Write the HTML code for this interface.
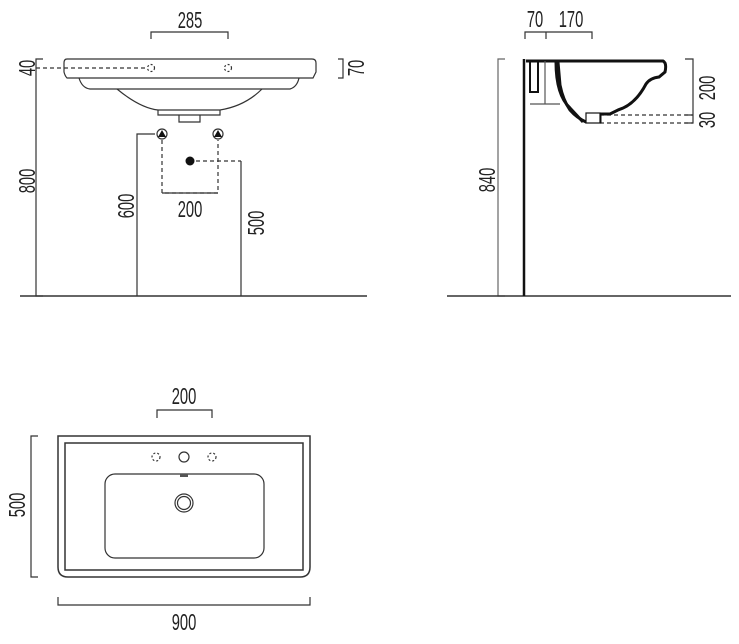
<!DOCTYPE html>
<html><head><meta charset="utf-8"><style>
html,body{margin:0;padding:0;background:#fff}
svg text{font-family:"Liberation Sans",sans-serif;font-size:23px;fill:#222}
</style></head><body>
<svg width="739" height="639" viewBox="0 0 739 639" xmlns="http://www.w3.org/2000/svg">
<g fill="none" stroke="#333" stroke-width="1.2">
<path d="M151 39V32H228V39"/>
<path d="M43 59H36V296H43"/>
<line x1="20" y1="296" x2="367" y2="296" stroke-width="1.5"/>
<path d="M36 68H147" stroke-dasharray="4 3"/>
<circle cx="151" cy="68" r="3.5" stroke-dasharray="2 2"/>
<circle cx="228" cy="68" r="3.5" stroke-dasharray="2 2"/>
<path d="M67 59H312Q316 59 316 63V72Q314 76 313 78H67Q65 76 64 72V63Q64 59 67 59Z"/>
<path d="M79 78Q82 88 90 89H290Q297 87 299 78"/>
<path d="M117 89Q140 108 158 110H220Q245 106 262 89"/>
<path d="M158 110V115H220V110"/>
<path d="M179 115V122H200V115"/>
<path d="M338 59H343V78H338"/>
<path d="M137 296V134H155" />
<path d="M162 140V193H218V140" stroke-dasharray="4 3"/>
<path d="M162 193H218"/>
<circle cx="162" cy="134" r="5"/>
<circle cx="218" cy="134" r="5"/>
<path d="M196 161H241" stroke-dasharray="4 3"/>
<path d="M241 161V296"/>
<path d="M525 39V32H592V39M546 32V39"/>
<path d="M505 59H498V296H505" stroke="#666"/>
<line x1="447" y1="296" x2="731" y2="296" stroke-width="1.5"/>
<line x1="524" y1="59" x2="524" y2="296" stroke="#111" stroke-width="2.5"/>
<path d="M685 59H693V123H685M693 115H685"/>
<path d="M600 115H693M600 123H693" stroke-dasharray="4 3"/>
<path d="M526 61H663Q667 63 665 72L659 77Q650 78 646 84Q635 105 618 110L610 114H600V122H586Q577 118 570 110Q563 100 560 85L558 62" stroke="#111" stroke-width="3"/>
<path d="M556 62Q556 95 570 108L583 122" stroke="#111" stroke-width="3"/>
<path d="M530 62V92H538V62" stroke="#111" stroke-width="2"/>
<path d="M530 104H560" stroke="#555"/>
<path d="M545 61V104" stroke="#555"/>
<rect x="586" y="113" width="14" height="10" fill="#fff" stroke="#111"/>
<path d="M157 418V410H212V418"/>
<path d="M38 436H31V577H38"/>
<path d="M58 436H310V567Q310 577 300 577H68Q58 577 58 567Z" stroke-width="1.5"/>
<rect x="65" y="443" width="238" height="127" stroke-width="1.5"/>
<rect x="105" y="474" width="159" height="84" rx="10"/>
<circle cx="156" cy="457" r="4" stroke-dasharray="2 2"/>
<circle cx="184" cy="457" r="5"/>
<circle cx="212" cy="457" r="4" stroke-dasharray="2 2"/>
<circle cx="184" cy="503" r="9"/>
<circle cx="184" cy="503" r="6.5"/>
<path d="M58 597V605H310V597"/>
</g>
<rect x="180" y="474" width="8" height="3" fill="#555"/>
<circle cx="190" cy="161" r="4.5" fill="#111"/>
<path d="M162 130L158 137H166Z M218 130L214 137H222Z" fill="#111"/>
<g text-anchor="middle">
<text transform="translate(190,28) scale(0.64,1)">285</text>
<text transform="translate(190,217) scale(0.64,1)">200</text>
<text transform="translate(35,68) rotate(-90) scale(0.64,1)">40</text>
<text transform="translate(35,181) rotate(-90) scale(0.64,1)">800</text>
<text transform="translate(134,206) rotate(-90) scale(0.64,1)">600</text>
<text transform="translate(264,223) rotate(-90) scale(0.64,1)">500</text>
<text transform="translate(364,68) rotate(-90) scale(0.64,1)">70</text>
<text transform="translate(535,27) scale(0.64,1)">70</text>
<text transform="translate(571,27) scale(0.64,1)">170</text>
<text transform="translate(495,180) rotate(-90) scale(0.64,1)">840</text>
<text transform="translate(715,88) rotate(-90) scale(0.64,1)">200</text>
<text transform="translate(715,120) rotate(-90) scale(0.64,1)">30</text>
<text transform="translate(184,404) scale(0.64,1)">200</text>
<text transform="translate(25,505) rotate(-90) scale(0.64,1)">500</text>
<text transform="translate(184,630) scale(0.64,1)">900</text>
</g>
</svg>
</body></html>
